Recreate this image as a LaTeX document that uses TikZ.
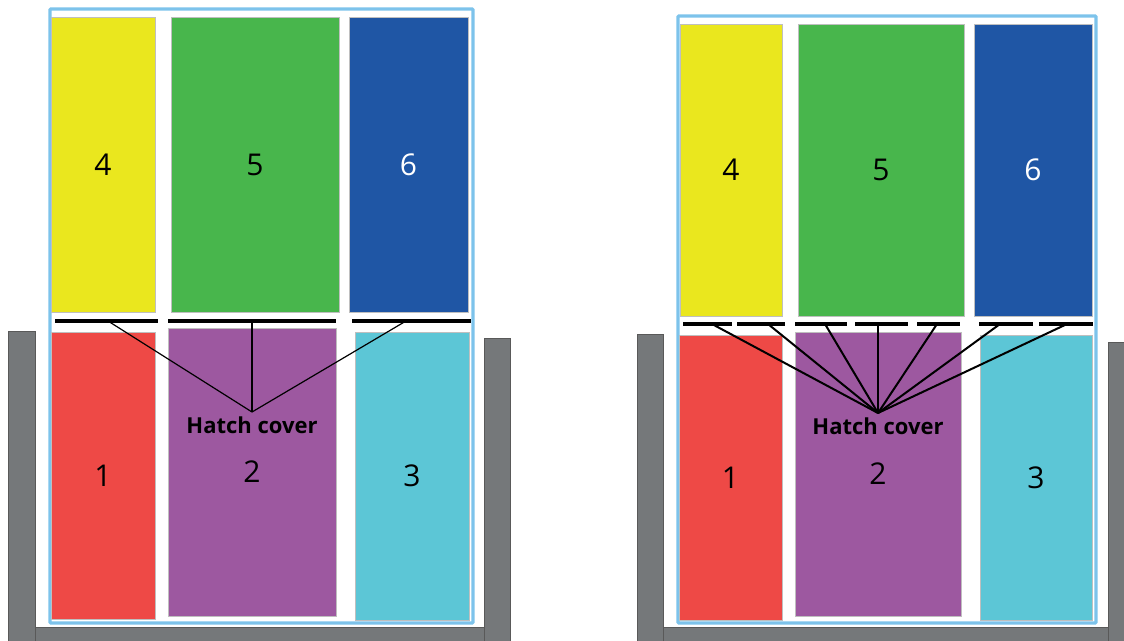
\documentclass[tikz,border=0pt]{standalone}
\usepackage{fontspec}
\setsansfont{Open Sans}
\usepackage{xcolor}
\usetikzlibrary{positioning}

\definecolor{holdyellow}{HTML}{EAE71E}
\definecolor{holdgreen}{HTML}{48B64C}
\definecolor{holdblue}{HTML}{1F56A5}
\definecolor{holdred}{HTML}{EE4946}
\definecolor{holdpurple}{HTML}{9D58A0}
\definecolor{holdcyan}{HTML}{5CC6D6}
\definecolor{wallgray}{HTML}{75787A}
\definecolor{frameblue}{HTML}{7DC3EB}

\begin{document}
\begin{tikzpicture}[
  x=1pt, y=-1pt,
  hold/.style={rectangle, draw=black!25, line width=0.6pt, inner sep=0pt,
    outer sep=0pt, anchor=north west,
    font=\sffamily\fontsize{30}{30}\selectfont},
  wall/.style={fill=wallgray, draw=black!65, line width=0.8pt},
  frame/.style={draw=frameblue, line width=3.2pt, rounded corners=1pt},
  cover/.style={line width=4pt},
  leader/.style={line width=1.2pt},
  tag/.style={inner xsep=0pt, inner ysep=5pt, anchor=north,
    font=\sffamily\bfseries\fontsize{22}{22}\selectfont},
]
  \clip (0,0) rectangle (1124,640);

  % ship walls
  \draw[wall] (8,331) rectangle (35,645);
  \draw[wall] (484,338) rectangle (510,645);
  \draw[wall] (35,627) rectangle (484,645);
  \draw[wall] (637,334) rectangle (663,645);
  \draw[wall] (1108,342) rectangle (1130,645);
  \draw[wall] (663,627) rectangle (1108,645);

  \draw[frame] (50,9) rectangle (473,623);
  \draw[frame] (678,16) rectangle (1096,623);

  % left stowage
  \node[hold, fill=holdyellow, minimum width=104pt, minimum height=295pt] (a4) at (51,17) {4};
  \node[hold, fill=holdgreen, minimum width=168pt, minimum height=295pt] (a5) at (171,17) {5};
  \node[hold, fill=holdblue, text=white, minimum width=119pt, minimum height=295pt] (a6) at (349,17) {6};
  \node[hold, fill=holdred, minimum width=104pt, minimum height=287pt] (a1) at (51,332) {1};
  \node[hold, fill=holdpurple, minimum width=168pt, minimum height=288pt] (a2) at (168,328) {2};
  \node[hold, fill=holdcyan, minimum width=114pt, minimum height=288pt] (a3) at (355,332) {3};

  % right stowage
  \node[hold, fill=holdyellow, minimum width=102pt, minimum height=292pt] (b4) at (680,24) {4};
  \node[hold, fill=holdgreen, minimum width=166pt, minimum height=292pt] (b5) at (798,24) {5};
  \node[hold, fill=holdblue, text=white, minimum width=118pt, minimum height=292pt] (b6) at (974,24) {6};
  \node[hold, fill=holdred, minimum width=103pt, minimum height=285pt] (b1) at (679,335) {1};
  \node[hold, fill=holdpurple, minimum width=166pt, minimum height=284pt] (b2) at (795,332) {2};
  \node[hold, fill=holdcyan, minimum width=112pt, minimum height=285pt] (b3) at (980,335) {3};

  % hatch covers
  \draw[cover] (55,321) -- (158,321);
  \draw[cover] (168,321) -- (336,321);
  \draw[cover] (352,321) -- (471,321);
  \foreach \xa/\xb in {683/732, 737/785, 795/847, 855/908, 917/960, 979/1033, 1039/1093}
    \draw[cover] (\xa,324) -- (\xb,324);

  \node[tag] (hc1) at (252,412) {Hatch cover};
  \node[tag] (hc2) at (878,413) {Hatch cover};

  \foreach \x [count=\i] in {108,252,406} {
    \coordinate (l\i) at (\x,321);
    \draw[leader] (l\i) -- (hc1.north);
  }
  \foreach \x [count=\i] in {712,768,825,878,937,1000,1067} {
    \coordinate (r\i) at (\x,324);
    \draw[leader, line width=2pt] (r\i) -- (hc2.north);
  }
\end{tikzpicture}
\end{document}
